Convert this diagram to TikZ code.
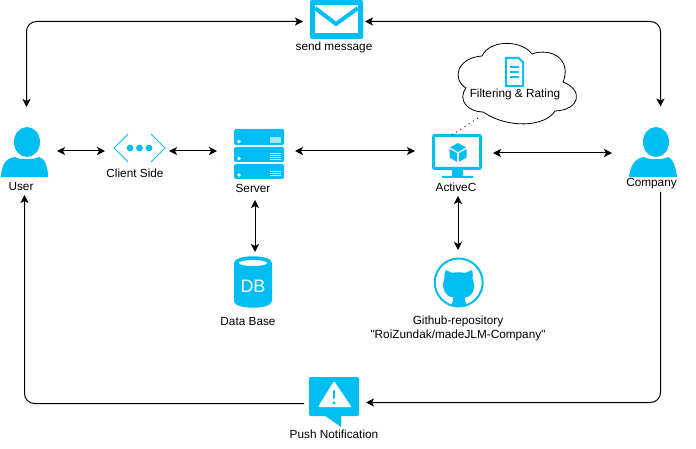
\documentclass[tikz,border=0pt]{standalone}
\usepackage{fontspec}
\setmainfont[Ligatures=TeXOff]{Liberation Sans}
\usetikzlibrary{arrows.meta,calc}
\definecolor{ic}{HTML}{00BEF2}
\tikzset{
  box/.style={inner sep=0pt,outer sep=0pt,minimum width=#1},
  lab/.style={inner sep=0pt,outer sep=0pt,font=\fontsize{11.8}{14}\selectfont,align=center,text=black},
  two/.style={line width=1pt,draw=black,{Stealth[length=8pt,width=8pt,inset=2pt]}-{Stealth[length=8pt,width=8pt,inset=2pt]}},
  one/.style={line width=1pt,draw=black,-{Stealth[length=8pt,width=8pt,inset=2pt]}},
  fillic/.style={fill=ic,draw=none},
  fillw/.style={fill=white,draw=none},
}
\begin{document}
\begin{tikzpicture}[x=1pt,y=-1pt]
\useasboundingbox[fill=white] (0,0) rectangle (696,449);
\node[box=48,minimum height=50] (user) at (25,151) {};
\node[box=51,minimum height=28] (client) at (139.5,151) {};
\node[box=50,minimum height=50] (server) at (259,151) {};
\node[box=50,minimum height=44] (active) at (457,151) {};
\node[box=48,minimum height=50] (company) at (653,151) {};
\node[box=53,minimum height=38] (mail) at (336.5,21) {};
\node[box=50,minimum height=50] (push) at (334,403) {};
\node[box=38,minimum height=50] (db) at (255,282) {};
\node[box=50,minimum height=50] (git) at (458,282) {};
\node[box=119,minimum height=77] (cloud) at (516,84.5) {};
% user
\fill[fillic] (27,142) ellipse [x radius=13,y radius=15];
\fill[fillic] (1,177) .. controls (1,165) and (6,158) .. (15,157) .. controls (20,160) and (34,160) .. (39,157) .. controls (44,158) and (48,165) .. (48,177) -- cycle;
\node[lab] (userl) at (21,186) {User};
% client
\draw[ic,line width=.9pt] (128,134) -- (114,148) -- (128,162) (151,134) -- (165,148) -- (151,162);
\fill[fillic] (130,148) circle (3.4) (139.5,148) circle (3.4) (149,148) circle (3.4);
\node[lab] (clientl) at (135,173) {Client Side};
% server
\foreach \a/\b in {129/145,147/162,164/179}{\fill[fillic,rounded corners=1.5pt] (234,\a) rectangle (284,\b);}
\fill[fillw] (239,141.5) circle (1.8) (239,158.5) circle (1.8) (239,175) circle (1.8);
\fill[white,opacity=.65] (270,137) rectangle (281,143);
\foreach \y in {154,156,158,160,172,174,176}{\draw[white,opacity=.7,line width=1pt] (270,\y) -- (281,\y);}
\node[lab] (serverl) at (253,188) {Server};
% monitor
\draw[ic,line width=3pt,fill=white,rounded corners=1pt] (433.5,135.5) rectangle (480.5,168.5);
\fill[fillic] (452,170) rectangle (463,176) (442,176) rectangle (473,178);
\fill[fillic] (458,143) -- (466,147.5) -- (458,152) -- (450,147.5) -- cycle;
\fill[fillic] (449.5,149) -- (457.2,153.3) -- (457.2,162) -- (449.5,157.5) -- cycle;
\fill[fillic] (466.5,149) -- (458.8,153.3) -- (458.8,162) -- (466.5,157.5) -- cycle;
\node[lab] (activel) at (456,187) {ActiveC};
% company
\fill[fillic] (656,142) ellipse [x radius=13,y radius=15];
\fill[fillic] (629,177) .. controls (630,166) and (635,158) .. (644,157) .. controls (649,160) and (663,160) .. (668,157) .. controls (672,158) and (676,166) .. (677,177) -- cycle;
\node[lab] (companyl) at (651.5,184) {Company};
% envelope
\fill[fillic,rounded corners=2pt] (310,0) rectangle (363,39);
\fill[fillw] (315,5) rectangle (358,33);
\draw[ic,line width=4pt] (315,8) -- (336,24) -- (358,8);
\node[lab] (maill) at (334,47) {send message};
% cloud
\draw[black,line width=.8pt,fill=white] (466,88) .. controls (452,80) and (456,58) .. (482,56) .. controls (490,39) and (522,40) .. (532,54) .. controls (552,47) and (572,60) .. (563,82) .. controls (584,90) and (580,110) .. (555,111) .. controls (545,127) and (508,129) .. (483,112) .. controls (468,112) and (457,100) .. (466,88) -- cycle;
\fill[fillic] (505,57) -- (519,57) -- (524,62) -- (524,87) -- (505,87) -- cycle;
\fill[fillw] (507,59) -- (518,59) -- (522,63) -- (522,85) -- (507,85) -- cycle;
\draw[ic,line width=1.4pt] (510,67) -- (519,67) (510,72) -- (519,72) (510,77) -- (519,77);
\node[lab] (cloudl) at (515,94) {Filtering \& Rating};
\draw[black,line width=.8pt,dash pattern=on 1pt off 4pt] ([xshift=-5pt,yshift=-6pt]active.north) -- ([xshift=-38pt,yshift=5pt]cloud.south);
% database
\fill[fillic] (234,263) .. controls (234,254) and (272,254) .. (272,263) -- (272,301) .. controls (272,310) and (234,310) .. (234,301) -- cycle;
\fill[fillw] (253,263) ellipse [x radius=14,y radius=3];
\node[inner sep=0pt,text=white,font=\fontsize{18}{20}\selectfont] (dbt) at (253,286.5) {DB};
\node[lab] (dbl) at (248,321) {Data Base};
% github
\draw[ic,line width=2pt] (458.7,282.5) circle (24);
\fill[fillic] (446,270) -- (452,273) .. controls (456,272) and (461,272) .. (465,273) -- (472,270) .. controls (473,274) and (473,277) .. (472.5,279) .. controls (476,286) and (474,296) .. (465,297.5) -- (465,301) -- (467,305) .. controls (462,306.5) and (456,306.5) .. (451,305) -- (453,301) -- (453,297.5) .. controls (444,296) and (441,286) .. (444.5,279) .. controls (444,277) and (444,274) .. (446,270) -- cycle;
\node[lab] (gitl) at (458,328) {Github-repository\\"RoiZundak/madeJLM-Company"};
% push
\fill[fillic,rounded corners=2pt] (309,377) rectangle (359,416);
\fill[fillic] (324,415) -- (341,427) -- (341,415) -- cycle;
\fill[fillw,rounded corners=1pt] (334,381) -- (351.5,407) -- (318,407) -- cycle;
\draw[ic,line width=2.6pt,line cap=round] (334,391) -- (334,398);
\fill[fillic] (334,403) circle (1.6);
\node[lab] (pushl) at (334,434) {Push Notification};
% corners
\coordinate (tl) at (26.5,21.5);
\coordinate (tr) at (660.5,21.5);
\coordinate (bl) at (24.5,403.5);
\coordinate (br) at (660.5,402.5);
% connectors
\draw[two,shorten <=8pt,shorten >=9pt] (user.east) -- (client.west);
\draw[two,shorten <=4pt,shorten >=17pt] (client.east) -- (server.west);
\draw[two,shorten <=11pt,shorten >=17pt] (server.east) -- (active.west);
\draw[two,shorten <=11pt,shorten >=17pt] ([yshift=-2pt]active.east) -- ([yshift=-2pt]company.west);
\draw[two,shorten <=24pt,shorten >=5pt] (server.south -| db.north) -- (db.north);
\draw[two,shorten <=23pt,shorten >=7pt] (active.south -| git.north) -- (git.north);
\draw[two,rounded corners=10pt] (26.5,107) -- (tl) -- ([xshift=-7pt,yshift=-0.5pt]mail.west);
\draw[two,rounded corners=10pt] ([xshift=2pt,yshift=-0.5pt]mail.east) -- (tr) -- (660.5,106.5);
\draw[one,rounded corners=10pt] ([xshift=-5pt,yshift=-0.5pt]push.west) -- (bl) -- (24.5,195);
\draw[one,rounded corners=10pt] (660.5,192) -- (br) -- ([xshift=7pt,yshift=0.5pt]push.east);
\end{tikzpicture}
\end{document}
